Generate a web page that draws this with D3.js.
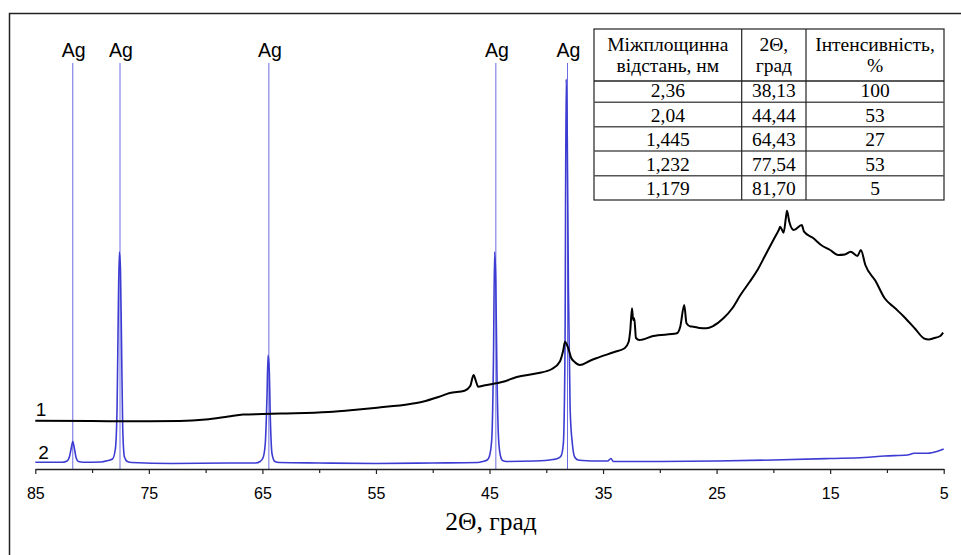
<!DOCTYPE html>
<html>
<head>
<meta charset="utf-8">
<script src="https://cdn.jsdelivr.net/npm/d3@7"></script>
<style>
  body { margin: 0; background: #fff; }
</style>
</head>
<body>
<script>
// 2Theta (deg) and intensity (arbitrary units, 0 = axis line)
var curve1 = [
  [85, 48.3], [80, 48], [76, 47.7], [72.3, 48], [70, 49.5], [68, 52.5], [66.7, 54.5], [65, 55],
  [63.4, 55.5], [59.2, 57], [57, 59], [54.9, 61.3], [52, 65], [50.9, 67.3], [49.5, 72],
  [48.5, 76], [47.2, 78.3], [46.7, 83], [46.4, 94], [46.2, 88], [46.0, 82.3], [45.5, 83.5],
  [43.8, 87.3], [42.6, 92], [40.8, 95.7], [39.5, 100], [38.8, 107.5], [38.5, 119],
  [38.35, 127.3], [38.1, 122], [37.8, 111], [37.5, 107], [37.05, 104], [36.15, 108.3],
  [35.6, 110.7], [34, 117], [33.1, 120.7], [32.75, 127], [32.6, 139], [32.45, 160.7],
  [32.35, 149], [32.25, 150.7], [32.1, 131], [31.8, 129], [30.6, 133], [28.5, 135.7],
  [28.2, 142.3], [27.85, 164], [27.65, 145.7], [27.3, 142.5], [27.05, 142.3], [26.5, 141],
  [25.9, 140.7], [25.3, 143], [24.4, 150.7], [23.6, 161], [22.9, 174], [22.1, 187],
  [21.4, 199], [20.7, 214], [20.0, 229], [19.5, 239.7], [19.4, 242.3],
  [19.1, 236.3], [18.9, 251], [18.8, 258.3], [18.6, 247.3], [18.2, 239], [17.5, 244],
  [17.3, 237.3], [16.5, 231], [15.8, 224], [15.0, 219], [14.3, 214], [13.7, 214.5],
  [13.2, 217.3], [12.6, 213], [12.3, 219], [11.9, 204], [11, 188], [10.2, 170.7],
  [9.3, 161], [8.5, 152.3], [7.5, 140], [6.75, 130.7], [6.3, 129.5], [5.9, 130.7],
  [5.3, 133], [5.05, 136.3]
];

var curve2 = [
  [85, 6.7], [82.6, 6.8], [82.2, 8], [82.0, 12], [81.85, 20], [81.7, 27.5], [81.55, 20],
  [81.4, 11], [81.2, 7.5], [80.8, 6.8], [79.2, 7], [78.6, 8.5], [78.2, 10], [77.95, 20],
  [77.8, 60], [77.7, 150], [77.6, 217], [77.5, 200], [77.4, 120], [77.3, 40], [77.15, 12],
  [76.9, 7.5], [76.5, 6.5], [73, 5.5], [68, 6], [65.6, 6], [65.2, 7.5], [64.95, 11],
  [64.75, 25], [64.6, 70], [64.5, 114], [64.4, 100], [64.3, 50], [64.15, 15], [63.9, 7.5],
  [63.5, 6.5], [60, 6], [55, 5.5], [50, 6], [46, 6.5], [45.6, 7.5], [45.2, 9], [45.0, 13],
  [44.8, 30], [44.65, 110], [44.55, 217], [44.45, 190], [44.35, 100], [44.2, 30],
  [44.05, 14], [43.85, 8.5], [43.5, 7.5], [41, 8], [39.4, 9.5], [39.0, 10.5], [38.7, 13],
  [38.5, 25], [38.35, 120], [38.25, 390], [38.15, 330], [38.05, 180], [37.9, 60],
  [37.7, 25], [37.5, 12], [37.2, 9], [36.8, 8.5], [35.2, 8], [34.6, 8], [34.3, 10.5],
  [34.1, 7.5], [30, 7.5], [25, 8], [20, 9], [15, 10.5], [12, 11.5], [10.2, 13], [8.2, 14],
  [7.6, 15.7], [6.4, 15.7], [5.6, 17.5], [5, 20]
];

var majorTicks = [85, 75, 65, 55, 45, 35, 25, 15, 5];
var minorTicks = [80, 70, 60, 50, 40, 30, 20, 10];

var tableHead = [["Міжплощинна", "відстань, нм"], ["2Θ,", "град"], ["Інтенсивність,", "%"]];
var tableRows = [
  ["2,36", "38,13", "100"],
  ["2,04", "44,44", "53"],
  ["1,445", "64,43", "27"],
  ["1,232", "77,54", "53"],
  ["1,179", "81,70", "5"]
];

var width = 961, height = 555;

var svg = d3.select("body")
    .append("svg")
    .attr("width", width)
    .attr("height", height);

// outer frame
svg.append("rect")
    .attr("x", 9.5).attr("y", 13.5)
    .attr("width", 1000).attr("height", 600)
    .attr("fill", "none")
    .attr("stroke", "#222")
    .attr("stroke-width", 1.5);

var x = d3.scaleLinear().domain([85, 5]).range([35.3, 943.7]);
var y = d3.scaleLinear().domain([0, 400]).range([469, 69]);

// Ag reference lines from table angles
var agPos = tableRows.map(function (r) { return +r[1].replace(",", "."); });

svg.selectAll(".agline")
    .data(agPos)
    .enter()
    .append("line")
    .attr("x1", function (d) { return x(d); })
    .attr("x2", function (d) { return x(d); })
    .attr("y1", 63)
    .attr("y2", y(0))
    .attr("stroke", "#6c6ce0")
    .attr("stroke-width", 1);

svg.selectAll(".aglabel")
    .data(agPos)
    .enter()
    .append("text")
    .attr("x", function (d) { return x(d) + 1; })
    .attr("y", 57)
    .attr("text-anchor", "middle")
    .style("font-family", "Liberation Sans, Arial, sans-serif")
    .style("font-size", "19.5px")
    .text("Ag");

var line = d3.line()
    .curve(d3.curveMonotoneX)
    .x(function (d) { return x(d[0]); })
    .y(function (d) { return y(d[1]); });

svg.append("path")
    .datum(curve2)
    .attr("d", line)
    .attr("fill", "none")
    .attr("stroke", "#3c3cd2")
    .attr("stroke-width", 1.6)
    .attr("stroke-linejoin", "round");

svg.append("path")
    .datum(curve1)
    .attr("d", line)
    .attr("fill", "none")
    .attr("stroke", "#000")
    .attr("stroke-width", 2)
    .attr("stroke-linejoin", "round");

// curve numbers
svg.append("text").attr("x", 41).attr("y", 416)
    .attr("text-anchor", "middle")
    .style("font-family", "Liberation Sans, Arial, sans-serif")
    .style("font-size", "19px").text("1");
svg.append("text").attr("x", 43.5).attr("y", 459)
    .attr("text-anchor", "middle")
    .style("font-family", "Liberation Sans, Arial, sans-serif")
    .style("font-size", "19px").text("2");

// x axis
var gx = svg.append("g")
    .attr("transform", "translate(0," + y(0) + ")")
    .call(d3.axisBottom(x).tickValues(majorTicks).tickSize(5).tickSizeOuter(0).tickFormat(d3.format("d")));
gx.select(".domain").attr("stroke", "#222").attr("stroke-width", 1.5);
gx.selectAll(".tick line").attr("stroke", "#222").attr("stroke-width", 1.2);
gx.selectAll("text")
    .attr("y", 19)
    .style("font-family", "Liberation Sans, Arial, sans-serif")
    .style("font-size", "16px")
    .attr("fill", "#000");

var gm = svg.append("g")
    .attr("transform", "translate(0," + y(0) + ")")
    .call(d3.axisBottom(x).tickValues(minorTicks).tickSize(4).tickSizeOuter(0).tickFormat(""));
gm.select(".domain").remove();
gm.selectAll(".tick line").attr("stroke", "#222").attr("stroke-width", 1.2);

svg.append("text")
    .attr("x", 491)
    .attr("y", 530)
    .attr("text-anchor", "middle")
    .style("font-family", "Liberation Serif, Times New Roman, serif")
    .style("font-size", "25.5px")
    .text("2Θ, град");

// table
var colX = [594, 741.7, 806, 944];
var rowY = [29, 81, 102.3, 126.7, 151, 175.7, 200];
var tg = svg.append("g")
    .style("font-family", "Liberation Serif, Times New Roman, serif")
    .style("font-size", "19.5px");

tg.append("rect")
    .attr("x", colX[0]).attr("y", rowY[0])
    .attr("width", colX[3] - colX[0]).attr("height", rowY[6] - rowY[0])
    .attr("fill", "#fff").attr("stroke", "#222").attr("stroke-width", 1.2);

tg.selectAll(".hl")
    .data(rowY.slice(1, 6))
    .enter()
    .append("line")
    .attr("x1", colX[0]).attr("x2", colX[3])
    .attr("y1", function (d) { return d; }).attr("y2", function (d) { return d; })
    .attr("stroke", function (d, i) { return i === 0 ? "#222" : "#555"; })
    .attr("stroke-width", 1.4);

tg.selectAll(".vl")
    .data(colX.slice(1, 3))
    .enter()
    .append("line")
    .attr("y1", rowY[0]).attr("y2", rowY[6])
    .attr("x1", function (d) { return d; }).attr("x2", function (d) { return d; })
    .attr("stroke", "#222").attr("stroke-width", 1.2);

tableHead.forEach(function (h, c) {
  var cx = (colX[c] + colX[c + 1]) / 2;
  tg.append("text").attr("x", cx).attr("y", 51).attr("text-anchor", "middle").text(h[0]);
  tg.append("text").attr("x", cx).attr("y", 72).attr("text-anchor", "middle").text(h[1]);
});

tableRows.forEach(function (r, i) {
  r.forEach(function (v, c) {
    tg.append("text")
      .attr("x", (colX[c] + colX[c + 1]) / 2)
      .attr("y", rowY[i + 2] - 5)
      .attr("text-anchor", "middle")
      .text(v);
  });
});
</script>
</body>
</html>
